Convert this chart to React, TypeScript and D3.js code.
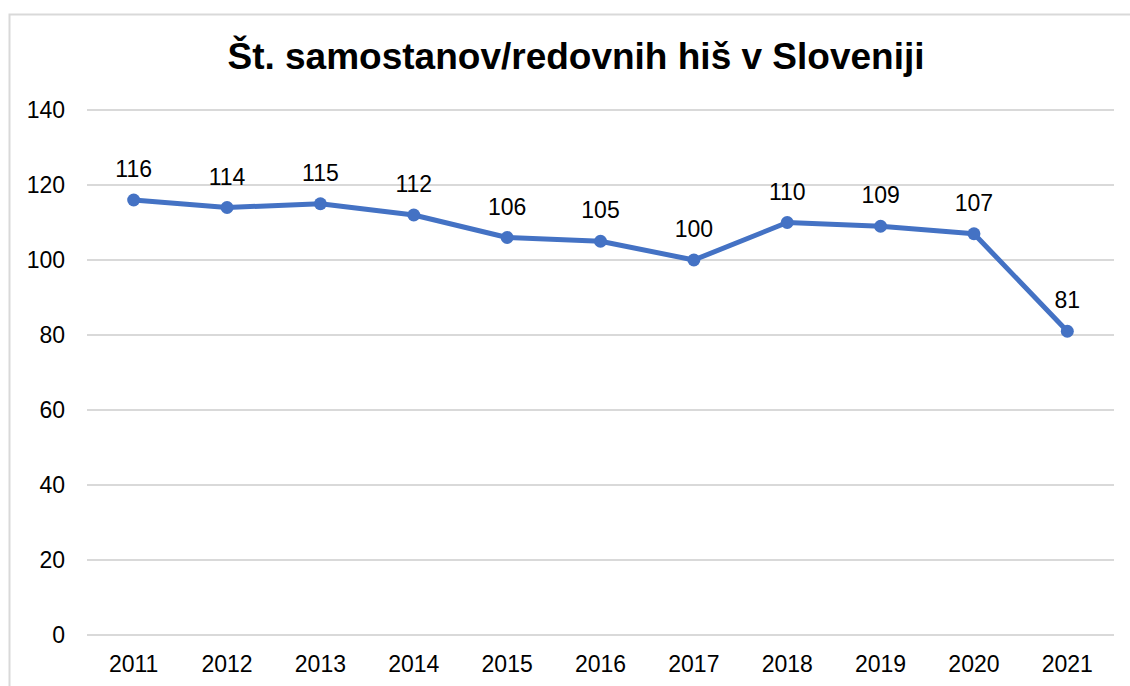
import React from 'react';
import * as d3 from 'd3';

const years = ['2011', '2012', '2013', '2014', '2015', '2016', '2017', '2018', '2019', '2020', '2021'];
const counts = [116, 114, 115, 112, 106, 105, 100, 110, 109, 107, 81];
const yTicks = [0, 20, 40, 60, 80, 100, 120, 140];
const title = 'Št. samostanov/redovnih hiš v Sloveniji';

const width = 1130;
const height = 686;
const margin = { top: 110, right: 16, bottom: 51, left: 87 };
const font = 'Arial, "Liberation Sans", sans-serif';

export default function App() {
  const x = d3.scaleBand()
    .domain(years)
    .range([margin.left, width - margin.right]);
  const y = d3.scaleLinear()
    .domain([0, 140])
    .range([height - margin.bottom, margin.top]);

  const cx = (yr: string) => (x(yr) as number) + x.bandwidth() / 2;
  const pts = years.map((yr, i) => ({ yr, v: counts[i] }));
  const line = d3.line<{ yr: string; v: number }>()
    .x(d => cx(d.yr))
    .y(d => y(d.v));

  return (
    <svg width={width} height={height} style={{ position: 'absolute', left: 0, top: 0, background: '#fff' }}>
      <rect x={9.5} y={14.5} width={width + 10} height={height + 10} fill="#fff" stroke="#d9d9d9" strokeWidth={2} />
      <text x={576} y={69} textAnchor="middle" fontFamily={font} fontWeight="bold" fontSize={37} fill="#000">
        {title}
      </text>
      {yTicks.map(t => (
        <g key={t}>
          <line x1={margin.left} x2={width - margin.right} y1={y(t)} y2={y(t)} stroke="#d9d9d9" strokeWidth={2} />
          <text x={65} y={y(t) + 8} textAnchor="end" fontFamily={font} fontSize={23} fill="#000">{t}</text>
        </g>
      ))}
      {years.map(yr => (
        <text key={yr} x={cx(yr)} y={y(0) + 37} textAnchor="middle" fontFamily={font} fontSize={23} fill="#000">{yr}</text>
      ))}
      <path d={line(pts) as string} fill="none" stroke="#4472c4" strokeWidth={5} strokeLinejoin="round" />
      {pts.map(d => (
        <g key={d.yr}>
          <circle cx={cx(d.yr)} cy={y(d.v)} r={6.5} fill="#4472c4" />
          <text x={cx(d.yr)} y={y(d.v) - 23} textAnchor="middle" fontFamily={font} fontSize={23} fill="#000">{d.v}</text>
        </g>
      ))}
    </svg>
  );
}
